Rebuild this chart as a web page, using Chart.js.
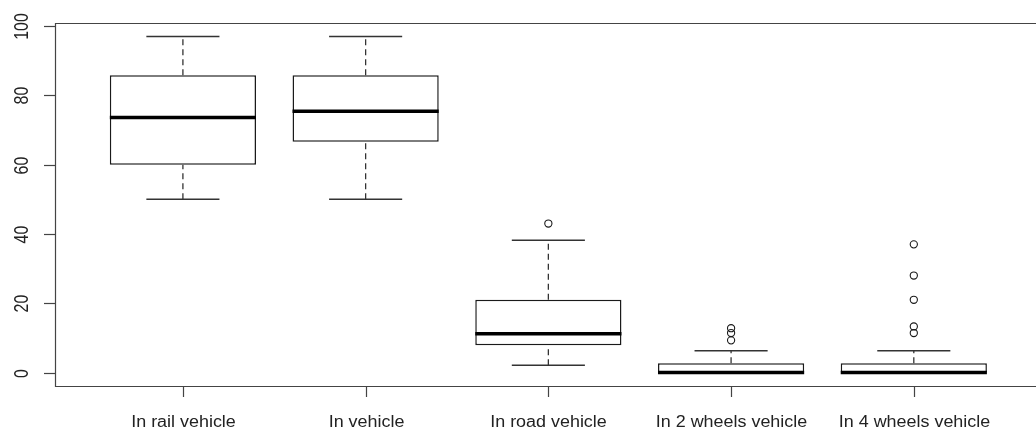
<!DOCTYPE html>
<html>
<head>
<meta charset="utf-8">
<script src="https://cdn.jsdelivr.net/npm/chart.js@4/dist/chart.umd.min.js"></script>
<style>
  html, body { margin: 0; padding: 0; background: #fff; overflow: hidden; }
  #wrap { width: 1036px; height: 432px; }
</style>
</head>
<body>
<div id="wrap"><canvas id="c" width="1036" height="432"></canvas></div>
<script>
// Five-number summaries and outliers per vehicle group
const categories = ['In rail vehicle', 'In vehicle', 'In road vehicle', 'In 2 wheels vehicle', 'In 4 wheels vehicle'];
const whiskerLow  = [50, 50, 2.1, 0, 0];
const q1          = [60, 66.6, 7.9, 0, 0];
const medians     = [73.6, 75.4, 11.2, 0, 0];
const q3          = [85.8, 85.8, 21.0, 2.7, 2.7];
const whiskerHigh = [97, 97, 38.2, 6.3, 6.3];
const outliers    = [[], [], [43], [12.8, 11.4, 9.3], [37, 28, 21, 13.3, 11.4]];
const yTicks      = [0, 20, 40, 60, 80, 100];

const INK = '#1a1a1a';
const FRAME = '#444';
const BOX_HALF = 0.4;     // half box width in x units
const STAPLE_HALF = 0.2;  // half staple width in x units

const datasets = [];

// boxes (q1 .. q3) as floating bars
datasets.push({
  type: 'bar',
  data: categories.map((c, i) => ({ x: i + 1, y: [q1[i], q3[i]] })),
  backgroundColor: '#fff',
  borderColor: INK,
  borderWidth: 1.5,
  borderSkipped: false,
  barPercentage: 1,
  categoryPercentage: 0.8,
  order: 4
});

function seg(points, extra) {
  return Object.assign({
    type: 'line',
    data: points,
    borderColor: INK,
    borderWidth: 1.3,
    pointRadius: 0,
    pointHoverRadius: 0,
    fill: false,
    tension: 0,
    borderCapStyle: 'butt',
    order: 2
  }, extra || {});
}

categories.forEach((c, i) => {
  const x = i + 1;
  // dashed whiskers
  if (whiskerHigh[i] > q3[i]) {
    datasets.push(seg([{ x, y: q3[i] }, { x, y: whiskerHigh[i] }], { borderDash: [6, 4], borderColor: '#333' }));
  }
  if (whiskerLow[i] < q1[i]) {
    datasets.push(seg([{ x, y: whiskerLow[i] }, { x, y: q1[i] }], { borderDash: [6, 4], borderColor: '#333' }));
  }
  // staples
  datasets.push(seg([{ x: x - STAPLE_HALF, y: whiskerHigh[i] }, { x: x + STAPLE_HALF, y: whiskerHigh[i] }], { borderColor: '#333', borderWidth: 1.6 }));
  datasets.push(seg([{ x: x - STAPLE_HALF, y: whiskerLow[i] }, { x: x + STAPLE_HALF, y: whiskerLow[i] }], { borderColor: '#333', borderWidth: 1.6 }));
  // median
  datasets.push(seg([{ x: x - BOX_HALF, y: medians[i] }, { x: x + BOX_HALF, y: medians[i] }], { borderColor: '#000', borderWidth: 3.6, order: 1 }));
});

// outliers
datasets.push({
  type: 'scatter',
  data: outliers.flatMap((vals, i) => vals.map(v => ({ x: i + 1, y: v }))),
  pointStyle: 'circle',
  pointRadius: 3.6,
  pointHoverRadius: 3.6,
  pointBorderWidth: 1.1,
  pointBorderColor: INK,
  pointBackgroundColor: 'rgba(255,255,255,0)',
  showLine: false,
  order: 0
});

// frame, ticks and labels in the base-graphics style
const axesPlugin = {
  id: 'baseAxes',
  afterDraw(chart) {
    const { ctx, chartArea: a, scales: { x, y } } = chart;
    ctx.save();
    ctx.strokeStyle = FRAME;
    ctx.lineWidth = 1.2;
    ctx.beginPath();
    ctx.moveTo(chart.width + 5, a.top + 0.5);
    ctx.lineTo(a.left + 0.5, a.top + 0.5);
    ctx.lineTo(a.left + 0.5, a.bottom + 0.5);
    ctx.lineTo(chart.width + 5, a.bottom + 0.5);
    ctx.stroke();

    ctx.fillStyle = '#222';
    ctx.font = '16px "Liberation Sans", Arial, sans-serif';

    // y ticks with rotated labels
    yTicks.forEach(v => {
      const py = Math.round(y.getPixelForValue(v)) + 0.5;
      ctx.beginPath();
      ctx.moveTo(a.left - 11, py);
      ctx.lineTo(a.left, py);
      ctx.stroke();
      ctx.save();
      ctx.translate(28, py);
      ctx.scale(1.3, 1);
      ctx.rotate(-Math.PI / 2);
      ctx.textAlign = 'center';
      ctx.textBaseline = 'alphabetic';
      ctx.fillText(String(v), 0, 0);
      ctx.restore();
    });

    // x ticks with category labels
    categories.forEach((c, i) => {
      const px = Math.round(x.getPixelForValue(i + 1)) + 0.5;
      ctx.beginPath();
      ctx.moveTo(px, a.bottom);
      ctx.lineTo(px, a.bottom + 11);
      ctx.stroke();
      ctx.save();
      ctx.translate(px, 426.5);
      ctx.scale(1.12, 1);
      ctx.textAlign = 'center';
      ctx.textBaseline = 'alphabetic';
      ctx.fillText(c, 0, 0);
      ctx.restore();
    });
    ctx.restore();
  }
};

new Chart(document.getElementById('c'), {
  type: 'bar',
  data: { datasets },
  options: {
    responsive: false,
    animation: false,
    devicePixelRatio: 1,
    layout: { padding: { left: 55, top: 23, right: 0, bottom: 46 } },
    scales: {
      x: {
        type: 'linear', min: 0.3, max: 5.643, offset: false, display: false,
        // one tick per group so the bar width follows the group spacing
        afterBuildTicks: scale => { scale.ticks = categories.map((c, i) => ({ value: i + 1 })); }
      },
      y: { type: 'linear', min: -3.88, max: 100.88, display: false, beginAtZero: false }
    },
    plugins: { legend: { display: false }, tooltip: { enabled: false } }
  },
  plugins: [axesPlugin]
});
</script>
</body>
</html>
